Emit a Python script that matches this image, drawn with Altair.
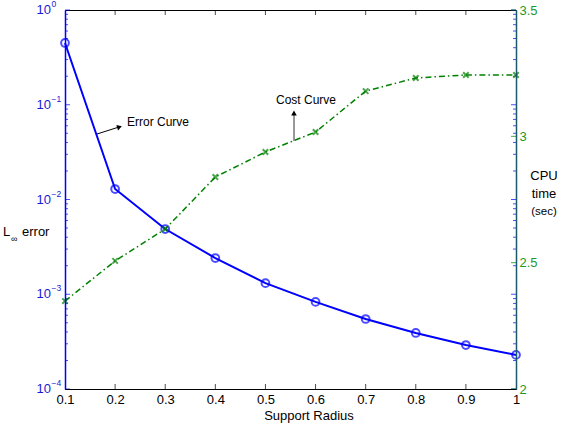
import altair as alt
import pandas as pd

# ---- data ----
radius = [0.1, 0.2, 0.3, 0.4, 0.5, 0.6, 0.7, 0.8, 0.9, 1.0]
linf_error = [0.449, 0.0129, 0.00488, 0.00241, 0.00131, 0.00083, 0.000548, 0.00039, 0.000291, 0.000229]
cpu_time = [2.348, 2.507, 2.633, 2.839, 2.938, 3.017, 3.179, 3.231, 3.243, 3.243]

x_tick_values = [0.1, 0.2, 0.3, 0.4, 0.5, 0.6, 0.7, 0.8, 0.9, 1.0]
cpu_tick_values = [2.0, 2.5, 3.0, 3.5]
log_major = [1e-4, 1e-3, 1e-2, 1e-1, 1.0]
log_exponents = ["\u22124", "\u22123", "\u22122", "\u22121", "0"]
log_minor = [m * d for d in [1e-4, 1e-3, 1e-2, 1e-1] for m in range(2, 10)]

W, H = 451, 379
FONT = "Liberation Sans"
BLUE = "#0000ff"
BLUE_TXT = "#1a1ad6"
GREEN = "#008000"
GREEN_TXT = "#1f9a1f"
TEAL = "#1b5a6a"

df = pd.DataFrame({"r": radius, "err": linf_error, "cpu": cpu_time})
major_df = pd.DataFrame({"v": log_major, "e": log_exponents})
minor_df = pd.DataFrame({"v": log_minor})
xt_df = pd.DataFrame({"xt": x_tick_values[1:-1]})
cpu_df = pd.DataFrame({"c": cpu_tick_values})
one = pd.DataFrame({"a": [0]})

x_scale = alt.Scale(domain=[0.1, 1.0], nice=False, zero=False)
x_axis = alt.Axis(values=x_tick_values, ticks=False, grid=False, title=None,
                  labelExpr="datum.value == 1 ? '1' : format(datum.value, '.1f')",
                  labelFlush=False, labelOverlap=False,
                  domainColor="black", labelColor="black", labelFont=FONT,
                  labelFontSize=13, labelPadding=4, zindex=1)
log_scale = alt.Scale(type="log", domain=[1e-4, 1.0], nice=False)
left_axis = alt.Axis(labels=False, ticks=False, grid=False, title=None,
                     domainColor=BLUE, domainWidth=1.5, zindex=1)
cpu_scale = alt.Scale(domain=[2.0, 3.5], nice=False, zero=False)
right_axis = alt.Axis(orient="right", values=cpu_tick_values, format="~g", ticks=False,
                      grid=False, title=None, domainColor=TEAL, domainWidth=1.5,
                      labelColor=GREEN_TXT, labelFont=FONT, labelFontSize=13,
                      labelPadding=3, labelFlush=False, labelOverlap=False, zindex=1)


def X(field):
    return alt.X(field, type="quantitative", scale=x_scale, axis=x_axis)


def YL(field):
    return alt.Y(field, type="quantitative", scale=log_scale, axis=left_axis)


def YR(field):
    return alt.Y(field, type="quantitative", scale=cpu_scale, axis=right_axis)


# ---- error (log) layer ----
err_line = alt.Chart(df).mark_line(color=BLUE, strokeWidth=2).encode(x=X("r"), y=YL("err"))
err_pts = alt.Chart(df).mark_point(color=BLUE, size=60, strokeWidth=2, filled=False).encode(
    x=X("r"), y=YL("err"))
lt_major = alt.Chart(major_df).mark_tick(color=BLUE, size=5, thickness=1).encode(
    y=YL("v"), x=alt.value(2.5))
lt_minor = alt.Chart(minor_df).mark_tick(color=BLUE, size=3, thickness=1).encode(
    y=YL("v"), x=alt.value(1.5))
rt_major = alt.Chart(major_df).mark_tick(color=BLUE, size=5, thickness=1).encode(
    y=YL("v"), x=alt.value(W - 2.5))
rt_minor = alt.Chart(minor_df).mark_tick(color=BLUE, size=3, thickness=1).encode(
    y=YL("v"), x=alt.value(W - 1.5))
lab_base = alt.Chart(major_df).mark_text(align="right", baseline="middle", font=FONT,
                                         fontSize=13, color=BLUE_TXT).encode(
    y=YL("v"), x=alt.value(-14), text=alt.value("10"))
lab_exp = alt.Chart(major_df).mark_text(align="left", baseline="middle", font=FONT,
                                        fontSize=8.5, color=BLUE_TXT, dy=-6).encode(
    y=YL("v"), x=alt.value(-13.5), text="e:N")

err_layer = alt.layer(err_line, err_pts, lt_major, lt_minor, rt_major, rt_minor,
                      lab_base, lab_exp)

# ---- cpu (linear) layer ----
cpu_line = alt.Chart(df).mark_line(color=GREEN, strokeWidth=1.5,
                                   strokeDash=[6, 3, 1.5, 3]).encode(x=X("r"), y=YR("cpu"))
cpu_pts = alt.Chart(df).mark_point(color=GREEN, shape="M-1,-1L1,1M-1,1L1,-1", size=30,
                                   strokeWidth=2, filled=False).encode(x=X("r"), y=YR("cpu"))
cpu_ticks = alt.Chart(cpu_df).mark_tick(color=GREEN, size=5, thickness=1).encode(
    y=YR("c"), x=alt.value(W - 2.5))
cpu_layer = alt.layer(cpu_line, cpu_pts, cpu_ticks)

# ---- x ticks (inward, bottom and top) ----
xt_bottom = alt.Chart(xt_df).mark_tick(color="black", size=5, thickness=1).encode(
    x=X("xt"), y=alt.value(H - 2.5))
xt_top = alt.Chart(xt_df).mark_tick(color="black", size=5, thickness=1).encode(
    x=X("xt"), y=alt.value(2.5))

# ---- annotations and titles ----
def txt(s, x, y, size=13, align="center", color="black"):
    return alt.Chart(one).mark_text(font=FONT, fontSize=size, align=align,
                                    baseline="middle", color=color).encode(
        x=alt.value(x), y=alt.value(y), text=alt.value(s))


err_arrow = alt.Chart(one).mark_rule(color="black", strokeWidth=1).encode(
    x=alt.value(32), x2=alt.value(54), y=alt.value(124), y2=alt.value(117))
err_head = alt.Chart(one).mark_point(shape="triangle-up", filled=True, color="black",
                                     size=32, angle=72, opacity=1).encode(
    x=alt.value(54.5), y=alt.value(117))
cost_arrow = alt.Chart(one).mark_rule(color="#333333", strokeWidth=1).encode(
    x=alt.value(229), x2=alt.value(229), y=alt.value(131), y2=alt.value(103))
cost_head = alt.Chart(one).mark_point(shape="triangle-up", filled=True, color="black",
                                      size=32, opacity=1).encode(
    x=alt.value(229), y=alt.value(103))

annotations = alt.layer(
    err_arrow, err_head, cost_arrow, cost_head,
    txt("Error Curve", 62, 112, size=12, align="left"),
    txt("Cost Curve", 211, 90, size=12, align="left"),
    txt("Support Radius", 244, 405.5, size=13),
    txt("L", -62, 222, size=13, align="left"),
    txt("\u221e", -54, 229, size=9, align="left"),
    txt("error", -43, 222, size=13, align="left"),
    txt("CPU", 479, 166, size=13),
    txt("time", 479, 184, size=13),
    txt("(sec)", 479, 202, size=11.5),
)

chart = alt.layer(
    err_layer, cpu_layer, xt_bottom, xt_top, annotations
).resolve_scale(y="independent").properties(
    width=W, height=H,
    autosize=alt.AutoSizeParams(type="none"),
    padding={"left": 65, "top": 10, "right": 48, "bottom": 45},
    background="white",
).configure_view(stroke="black", strokeWidth=1)

chart.save("out.html", embed_options={"renderer": "svg", "actions": False})
